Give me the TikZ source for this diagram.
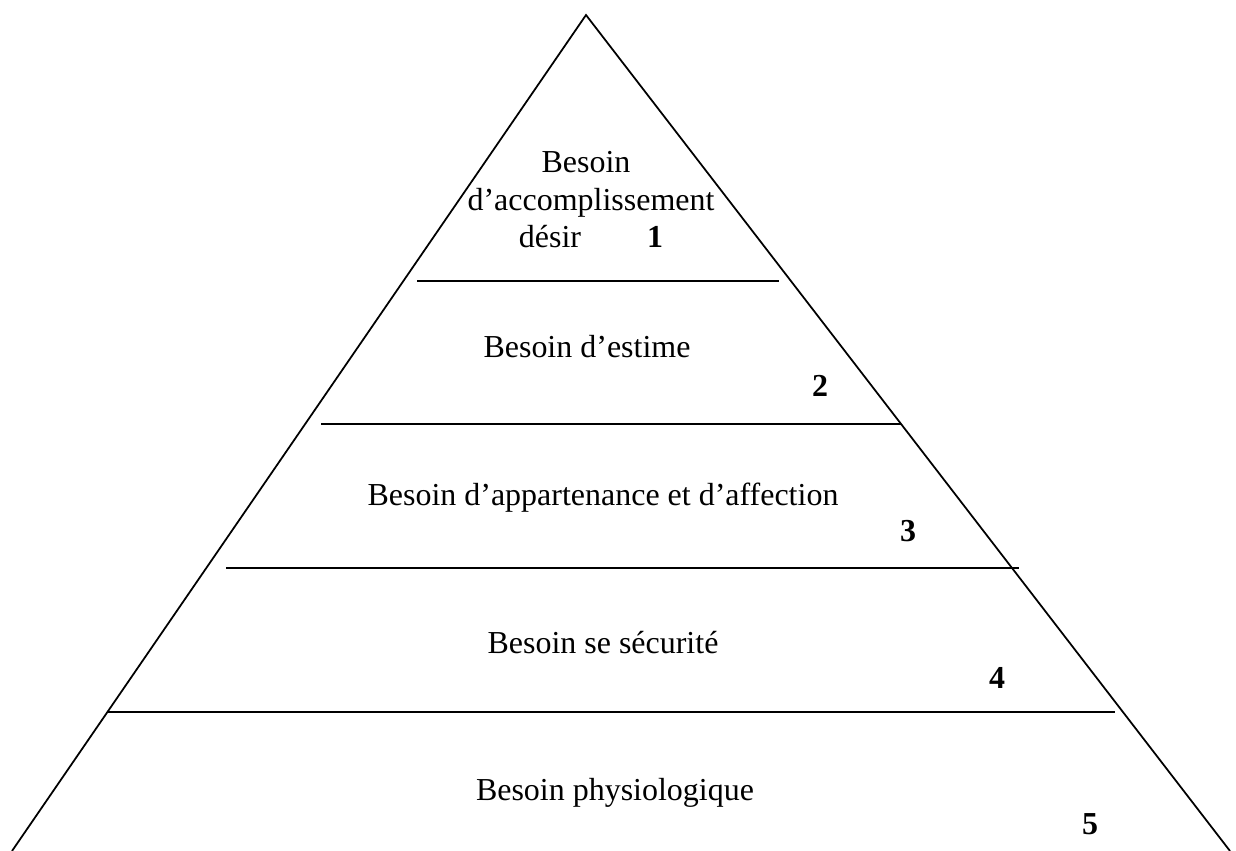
\documentclass[tikz,border=0pt]{standalone}
\usepackage{fontspec}
\setmainfont{Liberation Serif}
\usepackage{tikz}
\tikzstyle{cote} = [draw, line width=1pt]
\tikzstyle{palier} = [draw, line width=1.2pt]
\tikzstyle{besoin} = [anchor=base, inner sep=0pt, font=\fontsize{18.2}{22}\selectfont]
\tikzstyle{rang} = [anchor=base, inner sep=0pt, font=\fontsize{18.2}{22}\selectfont\bfseries]

\begin{document}
\begin{tikzpicture}[x=0.02cm, y=-0.02cm]
\useasboundingbox (0,0) rectangle (1236,851);

% sides of the pyramid
\coordinate (apex) at (586,15);
\coordinate (baseL) at (12,851);
\coordinate (baseR) at (1230,851);
\path [cote] (baseL) -- (apex) -- (baseR);

% levels
\coordinate (l1) at (417,281);  \coordinate (r1) at (779,281);
\coordinate (l2) at (321,424);  \coordinate (r2) at (901,424);
\coordinate (l3) at (226,568);  \coordinate (r3) at (1019,568);
\coordinate (l4) at (107,712);  \coordinate (r4) at (1115,712);
\path [palier] (l1) -- (r1);
\path [palier] (l2) -- (r2);
\path [palier] (l3) -- (r3);
\path [palier] (l4) -- (r4);

% texts
\node [besoin] (acc1) at (586,173) {Besoin};
\node [besoin] (acc2) at (591,211) {d’accomplissement};
\node [besoin] (acc3) at (550,247) {désir};
\node [rang] (n1) at (655,247) {1};

\node [besoin] (estime) at (587,357) {Besoin d’estime};
\node [rang] (n2) at (820,396) {2};

\node [besoin] (appart) at (603,505) {Besoin d’appartenance et d’affection};
\node [rang] (n3) at (908,541) {3};

\node [besoin] (secu) at (603,653) {Besoin se sécurité};
\node [rang] (n4) at (997,688) {4};

\node [besoin] (physio) at (615,800) {Besoin physiologique};
\node [rang] (n5) at (1090,834) {5};

\end{tikzpicture}
\end{document}
